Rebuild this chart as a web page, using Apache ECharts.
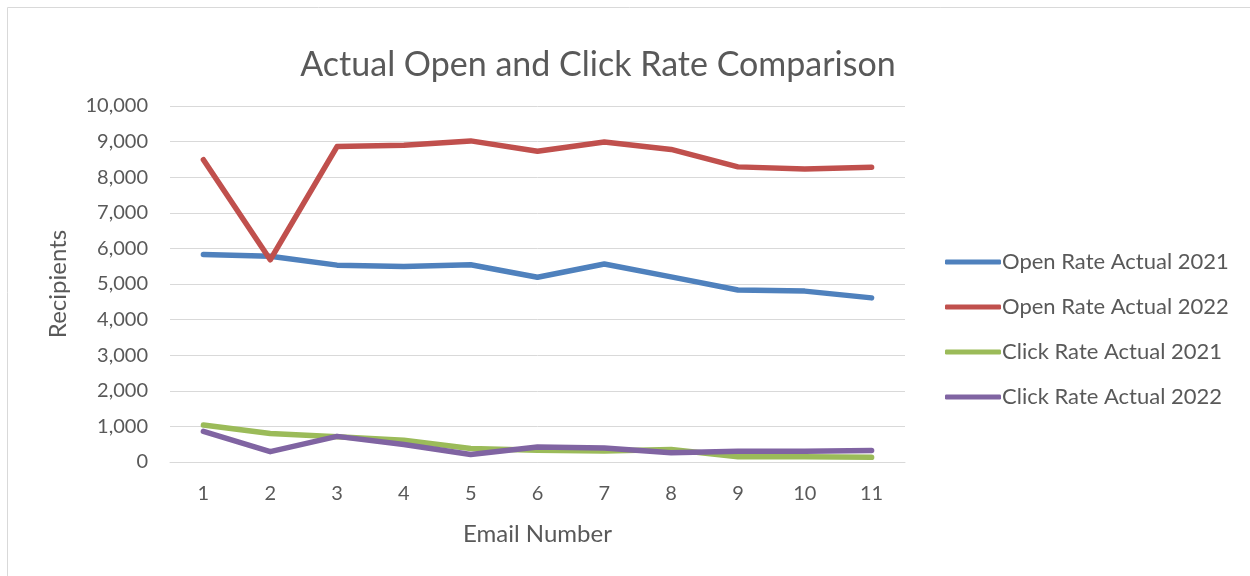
<!DOCTYPE html>
<html>
<head>
<meta charset="utf-8">
<script src="https://cdn.jsdelivr.net/npm/echarts@6/dist/echarts.min.js"></script>
<style>
  html, body { margin: 0; padding: 0; background: #fff; }
  #chart { width: 1250px; height: 576px; }
</style>
</head>
<body>
<div id="chart"></div>
<script>
// Email numbers on the x axis
const emailNumbers = ['1', '2', '3', '4', '5', '6', '7', '8', '9', '10', '11'];

// Recipients per email
const openRate2021 = [5830, 5780, 5530, 5490, 5540, 5190, 5560, 5200, 4830, 4800, 4610];
const openRate2022 = [8490, 5680, 8860, 8900, 9020, 8730, 8990, 8780, 8290, 8230, 8280];
const clickRate2021 = [1040, 800, 710, 610, 380, 330, 310, 350, 150, 150, 130];
const clickRate2022 = [860, 290, 720, 490, 210, 420, 390, 260, 300, 300, 320];

const seriesNames = ['Open Rate Actual 2021', 'Open Rate Actual 2022', 'Click Rate Actual 2021', 'Click Rate Actual 2022'];
const seriesColors = ['#4F81BD', '#C0504D', '#9BBB59', '#8064A2'];

const font = 'Lato, "Liberation Sans", sans-serif';
const textColor = '#595959';

const myChart = echarts.init(document.getElementById('chart'));

function makeLine(name, data, color) {
    return {
        name: name,
        type: 'line',
        data: data,
        showSymbol: false,
        symbol: 'none',
        lineStyle: { width: 5.5, color: color, cap: 'round', join: 'round' },
        itemStyle: { color: color },
        emphasis: { disabled: true }
    };
}

const option = {
    animation: false,
    color: seriesColors,
    title: {
        text: 'Actual Open and Click Rate Comparison',
        left: 593,
        top: 43,
        textAlign: 'center',
        textStyle: { fontFamily: font, fontSize: 34, fontWeight: 'normal', color: textColor }
    },
    legend: {
        orient: 'vertical',
        left: 940,
        top: 246,
        itemWidth: 56,
        itemHeight: 5,
        itemGap: 23,
        icon: 'roundRect',
        textStyle: { fontFamily: font, fontSize: 22, color: textColor, padding: [0, 0, 0, -4] },
        data: seriesNames
    },
    graphic: [{
        type: 'rect',
        shape: { x: 7.5, y: 7.5, width: 1260, height: 600 },
        style: { fill: 'none', stroke: '#d9d9d9', lineWidth: 1 },
        silent: true
    }],
    grid: {
        left: 170,
        right: 345,
        top: 106,
        bottom: 114,
        containLabel: false
    },
    xAxis: {
        type: 'category',
        data: emailNumbers,
        boundaryGap: true,
        name: 'Email Number',
        nameLocation: 'middle',
        nameGap: 60,
        nameTextStyle: { fontFamily: font, fontSize: 24, color: textColor },
        axisLine: { show: true, lineStyle: { color: '#d9d9d9', width: 1 } },
        axisTick: { show: false },
        axisLabel: { fontFamily: font, fontSize: 20, color: textColor, margin: 22 }
    },
    yAxis: {
        type: 'value',
        min: 0,
        max: 10000,
        interval: 1000,
        name: 'Recipients',
        nameLocation: 'middle',
        nameGap: 100,
        nameTextStyle: { fontFamily: font, fontSize: 24, color: textColor },
        axisLine: { show: false },
        axisTick: { show: false },
        splitLine: { lineStyle: { color: '#d9d9d9', width: 1 } },
        axisLabel: {
            fontFamily: font,
            fontSize: 20,
            color: textColor,
            margin: 22,
            formatter: function (v) { return v.toLocaleString('en-US'); }
        }
    },
    series: [
        makeLine(seriesNames[0], openRate2021, seriesColors[0]),
        makeLine(seriesNames[1], openRate2022, seriesColors[1]),
        makeLine(seriesNames[2], clickRate2021, seriesColors[2]),
        makeLine(seriesNames[3], clickRate2022, seriesColors[3])
    ]
};

myChart.setOption(option);
</script>
</body>
</html>
